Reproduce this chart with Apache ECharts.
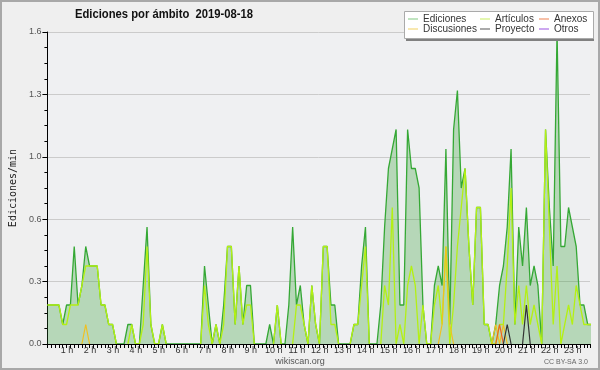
<!DOCTYPE html>
<html><head><meta charset="utf-8">
<script src="https://cdn.jsdelivr.net/npm/echarts@6/dist/echarts.min.js"></script>
<style>html,body{margin:0;padding:0;background:#efefef}#c{width:600px;height:370px}</style>
</head><body><div id="c"></div>
<script>
// 10-minute slots starting at 00:00
const hourLabels = ['1 h','2 h','3 h','4 h','5 h','6 h','7 h','8 h','9 h','10 h','11 h','12 h','13 h','14 h','15 h','16 h','17 h','18 h','19 h','20 h','21 h','22 h','23 h'];
const yTickLabels = ['0.0','0.3','0.6','1.0','1.3','1.6'];
const ediciones = [
 0.2,0.2,0.2,0.2,0.1,0.2,0.2,0.5,0.2,0.3,
 0.5,0.4,0.4,0.4,0.2,0.2,0.1,0.1,0,0,
 0,0.1,0.1,0,0,0.3,0.6,0.1,0,0,
 0.1,0,0,0,0,0,0,0,0,0,
 0,0.4,0.2,0,0.1,0,0.2,0.5,0.5,0.1,
 0.4,0.1,0.3,0.3,0,0,0,0,0.1,0,
 0.2,0,0,0.2,0.6,0.2,0.3,0.1,0,0.3,
 0.1,0,0.5,0.5,0.2,0.2,0,0,0,0,
 0.1,0.1,0.4,0.6,0,0,0,0.2,0.6,0.9,
 1.0,1.1,0.2,0.2,1.1,0.9,0.9,0.8,0.2,0,
 0,0.3,0.4,0.3,1.0,0.1,1.1,1.3,0.8,0.9,
 0.5,0.2,0.7,0.7,0.1,0.1,0,0.1,0.3,0.4,
 0.6,1.0,0.1,0.6,0.4,0.7,0.3,0.4,0.3,0,
 1.1,0.7,0.4,1.6,0.5,0.5,0.7,0.6,0.5,0.2,
 0.2,0.1,0.1
];
const articulos = [
 0.2,0.2,0.2,0.2,0.1,0.1,0.2,0.2,0.2,0.3,
 0.4,0.4,0.4,0.4,0.2,0.2,0.1,0.1,0,0,
 0,0,0.1,0,0,0.1,0.5,0.1,0,0,
 0.1,0,0,0,0,0,0,0,0,0,
 0,0.3,0.1,0,0.1,0,0.1,0.5,0.5,0.1,
 0.4,0.1,0.2,0.2,0,0,0,0,0,0,
 0.2,0,0,0,0,0.2,0.2,0.1,0,0.3,
 0.1,0,0.5,0.5,0.1,0.1,0,0,0,0,
 0.1,0.1,0.3,0.5,0,0,0,0,0.3,0.2,
 0.7,0,0.1,0,0.3,0.4,0.3,0,0.2,0,
 0,0.2,0.3,0.1,0.5,0,0.2,0.5,0.7,0.9,
 0.5,0.2,0.7,0.7,0.1,0.1,0,0,0.1,0.1,
 0.4,0.8,0.1,0.3,0.1,0.3,0.1,0.2,0.1,0,
 1.1,0.6,0.1,0.4,0,0.1,0.2,0.1,0.3,0.2,
 0.1,0.1,0.1
];
const discusiones = [
 0,0,0,0,0,0,0,0,0,0, 0.1,0,0,0,0,0,0,0,0,0,
 0,0,0,0,0,0,0,0,0,0, 0,0,0,0,0,0,0,0,0,0,
 0,0,0,0,0,0,0,0,0,0, 0,0,0,0,0,0,0,0,0,0,
 0,0,0,0,0,0,0,0,0,0, 0,0,0,0,0,0,0,0,0,0,
 0,0,0,0,0,0,0,0,0,0, 0,0,0,0,0,0,0,0,0,0,
 0,0,0,0.1,0.5,0.1,0,0,0,0, 0,0,0,0,0,0,0,0.1,0,0.1,
 0,0,0,0,0,0,0,0,0,0, 0,0,0,0,0,0,0,0,0,0, 0,0,0
];
const anexos = [
 0,0,0,0,0,0,0,0,0,0, 0,0,0,0,0,0,0,0,0,0,
 0,0,0,0,0,0,0,0,0,0, 0,0,0,0,0,0,0,0,0,0,
 0,0,0,0,0,0,0,0,0,0, 0,0,0,0,0,0,0,0,0,0,
 0,0,0,0,0,0,0,0,0,0, 0,0,0,0,0,0,0,0,0,0,
 0,0,0,0,0,0,0,0,0,0, 0,0,0,0,0,0,0,0,0,0,
 0,0,0,0,0,0,0,0,0,0, 0,0,0,0,0,0,0,0,0.1,0,
 0,0,0,0,0,0,0,0,0,0, 0,0,0,0,0,0,0,0,0,0, 0,0,0
];
const proyecto = [
 0,0,0,0,0,0,0,0,0,0, 0,0,0,0,0,0,0,0,0,0,
 0,0,0,0,0,0,0,0,0,0, 0,0,0,0,0,0,0,0,0,0,
 0,0,0,0,0,0,0,0,0,0, 0,0,0,0,0,0,0,0,0,0,
 0,0,0,0,0,0,0,0,0,0, 0,0,0,0,0,0,0,0,0,0,
 0,0,0,0,0,0,0,0,0,0, 0,0,0,0,0,0,0,0,0,0,
 0,0,0,0,0,0,0,0,0,0, 0,0,0,0,0,0,0,0,0,0,
 0.1,0,0,0,0,0.2,0,0,0,0, 0,0,0,0,0,0,0,0,0,0, 0,0,0
];
const otros = [
 0,0,0,0,0,0,0,0,0,0, 0,0,0,0,0,0,0,0,0,0,
 0,0,0,0,0,0,0,0,0,0, 0,0,0,0,0,0,0,0,0,0,
 0,0,0,0,0,0,0,0,0,0, 0,0,0,0,0,0,0,0,0,0,
 0,0,0,0,0,0,0,0,0,0, 0,0,0,0,0,0,0,0,0,0,
 0,0,0,0,0,0,0,0,0,0, 0,0,0,0,0,0,0,0,0,0,
 0,0,0,0,0,0,0,0,0,0, 0,0,0,0,0,0,0,0,0,0,
 0,0,0,0,0,0,0,0,0,0, 0,0,0,0,0,0,0,0,0,0, 0,0,0
];

const full = arr => arr.map((v, i) => [i, v]);
const sparse = arr => arr.map((v, i) => (v === 0 && !arr[i - 1] && !arr[i + 1]) ? [i, '-'] : [i, v]);
const FONT = '"Liberation Sans", Arial, sans-serif';

const lineSeries = (name, arr, color, width) => ({
  name, type: 'line', data: sparse(arr), symbol: 'none', z: 3,
  lineStyle: { color, width }, itemStyle: { color }, connectNulls: false
});

const legendBase = {
  orient: 'vertical', top: 14, padding: 0, itemGap: 0, icon: 'rect',
  itemWidth: 10, itemHeight: 1, z: 6, selectedMode: false,
  textStyle: { fontSize: 10, color: '#333', lineHeight: 10, fontFamily: FONT }
};

const chart = echarts.init(document.getElementById('c'));
chart.setOption({
  animation: false,
  backgroundColor: '#efefef',
  textStyle: { fontFamily: FONT },
  grid: { left: 46, right: 10, top: 32, bottom: 26, show: true, backgroundColor: '#eff0f2', borderWidth: 0 },
  xAxis: {
    type: 'value', min: 0, max: 141.6, interval: 1, z: 10,
    axisLine: { show: true, onZero: false, lineStyle: { color: '#000', width: 1 } },
    axisTick: { show: true, length: 4, lineStyle: { color: '#000' } },
    splitLine: { show: false },
    axisLabel: {
      fontSize: 9, color: '#333', margin: 2, padding: [0, 7, 0, 0], showMinLabel: true, showMaxLabel: true,
      formatter: v => (v > 0 && v % 6 === 0 && v / 6 <= hourLabels.length) ? hourLabels[v / 6 - 1] : ''
    }
  },
  yAxis: {
    type: 'value', min: 0, max: 1.6, interval: 0.32, z: 1,
    axisLine: { show: true, lineStyle: { color: '#000' } },
    axisTick: { show: true, length: 5, lineStyle: { color: '#000' } },
    minorTick: { show: true, splitNumber: 4, length: 3, lineStyle: { color: '#000' } },
    splitLine: { show: true, lineStyle: { color: '#cbcbcb' } },
    axisLabel: { fontSize: 9, color: '#555', margin: 6, formatter: v => yTickLabels[Math.round(v / 0.32)] },
    name: 'Ediciones/min', nameLocation: 'middle', nameGap: 27, nameRotate: 90,
    nameTextStyle: { fontFamily: '"DejaVu Sans Mono", monospace', fontSize: 10, color: '#222' }
  },
  legend: [
    Object.assign({}, legendBase, { left: 408, data: [
      { name: 'Ediciones', itemStyle: { color: '#80c880' } },
      { name: 'Discusiones', itemStyle: { color: '#f0d060' } } ] }),
    Object.assign({}, legendBase, { left: 480, data: [
      { name: 'Artículos', itemStyle: { color: '#c8ee60' } },
      { name: 'Proyecto', itemStyle: { color: '#555' } } ] }),
    Object.assign({}, legendBase, { left: 539, data: [
      { name: 'Anexos', itemStyle: { color: '#ee8050' } },
      { name: 'Otros', itemStyle: { color: '#9a50e0' } } ] })
  ],
  graphic: [
    { type: 'rect', z: 100, silent: true, shape: { x: 1, y: 1, width: 598, height: 368 }, style: { fill: 'none', stroke: '#a8a8a8', lineWidth: 2 } },
    { type: 'text', z: 5, silent: true, x: 164, y: 14, scaleX: 0.865, originX: 0, originY: 0,
      style: { text: 'Ediciones por ámbito  2019-08-18', align: 'center', verticalAlign: 'middle', textAlign: 'center', textVerticalAlign: 'middle', font: 'bold 13px "Liberation Sans", Arial, sans-serif', fill: '#111' } },
    { type: 'rect', z: 4, silent: true, shape: { x: 406, y: 38, width: 188, height: 3 }, style: { fill: '#808080' } },
    { type: 'rect', z: 4, silent: true, shape: { x: 404.5, y: 11.5, width: 189, height: 27 }, style: { fill: '#fff', stroke: '#aaa', lineWidth: 1 } },
    { type: 'text', z: 5, silent: true, x: 300, y: 362, style: { text: 'wikiscan.org', align: 'center', verticalAlign: 'middle', textAlign: 'center', textVerticalAlign: 'middle', font: '9px "Liberation Sans", Arial, sans-serif', fill: '#555' } },
    { type: 'text', z: 5, silent: true, x: 588, y: 362, style: { text: 'CC BY-SA 3.0', align: 'right', verticalAlign: 'middle', textAlign: 'right', textVerticalAlign: 'middle', font: '7px "Liberation Sans", Arial, sans-serif', fill: '#666' } }
  ],
  series: [
    { name: 'Ediciones', type: 'line', data: full(ediciones), symbol: 'none', z: 2,
      lineStyle: { color: '#35a835', width: 1.3 }, itemStyle: { color: '#35a835' },
      areaStyle: { color: 'rgba(60,160,60,0.45)', origin: 'start' } },
    lineSeries('Artículos', articulos, '#b4f014', 1.3),
    lineSeries('Discusiones', discusiones, '#f0c020', 1.2),
    lineSeries('Anexos', anexos, '#f06020', 1.2),
    lineSeries('Proyecto', proyecto, '#333', 1.2),
    lineSeries('Otros', otros, '#9a40e0', 1.2)
  ]
});
</script>
</body></html>
